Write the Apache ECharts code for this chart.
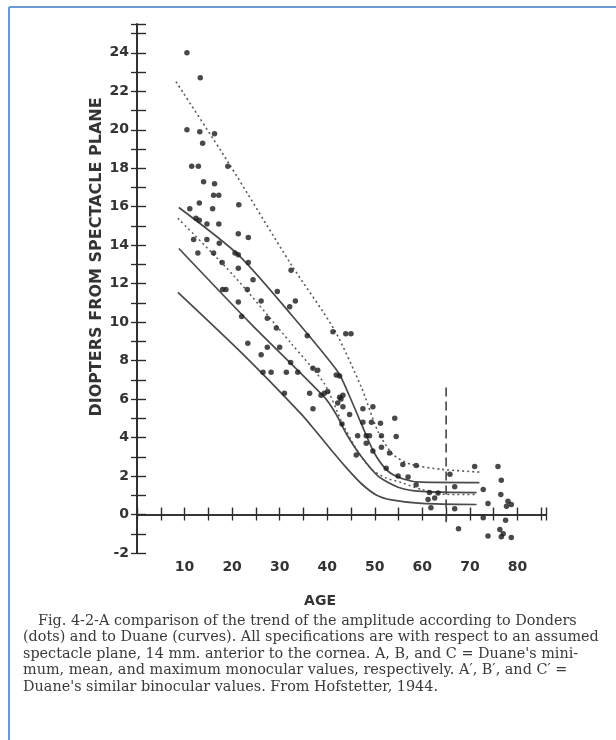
<!DOCTYPE html>
<html><head><meta charset="utf-8">
<script src="https://cdn.jsdelivr.net/npm/echarts@6/dist/echarts.min.js"></script>
<style>html,body{margin:0;padding:0;background:#fff}#c{width:616px;height:740px}</style>
</head><body><div id="c"></div><script>
// ---- data ----
const xTickLabels = [10, 20, 30, 40, 50, 60, 70, 80];
const yTickLabels = [-2, 0, 2, 4, 6, 8, 10, 12, 14, 16, 18, 20, 22, 24];

// Donders' data (dots): age and amplitude (diopters)
const dotAge = [10.5,13.3,10.5,13.2,16.3,13.8,11.5,12.9,19.1,14.0,16.3,16.1,17.2,13.1,21.4,11.1,15.9,12.4,13.1,14.7,
  17.2,21.3,23.4,11.9,14.7,17.3,12.8,16.1,20.6,21.3,17.9,23.4,21.3,32.4,24.4,29.5,18.0,18.7,23.2,21.3,
  26.1,33.3,32.1,22.0,27.4,29.3,35.8,23.3,27.4,26.1,30.0,32.3,37.0,38.0,26.5,28.2,31.4,33.8,41.9,42.6,
  31.0,36.3,39.4,40.1,43.3,41.2,43.9,45.0,38.7,42.6,42.9,42.2,43.3,37.0,47.5,49.6,44.7,43.1,47.5,49.3,
  51.2,54.2,46.4,48.2,48.9,51.4,54.5,48.2,49.6,51.4,53.1,46.1,52.4,55.9,58.7,54.9,57.0,58.7,61.5,63.3,
  61.2,61.8,62.6,65.8,66.8,66.8,71.0,72.8,73.8,72.8,67.6,75.9,76.6,76.5,78.0,78.7,77.7,77.5,76.3,77.0,
  73.8,78.7,76.6];
const dotDiopter = [24.0,22.7,20.0,19.9,19.8,19.3,18.1,18.1,18.1,17.3,17.2,16.6,16.6,16.2,16.1,15.9,15.9,15.4,15.3,15.1,
  15.1,14.6,14.4,14.3,14.3,14.1,13.6,13.6,13.6,13.5,13.1,13.1,12.8,12.7,12.2,11.6,11.7,11.7,11.7,11.05,
  11.1,11.1,10.8,10.3,10.2,9.7,9.3,8.9,8.7,8.3,8.7,7.9,7.6,7.5,7.4,7.4,7.4,7.4,7.25,7.2,
  6.3,6.3,6.3,6.4,6.2,9.5,9.4,9.4,6.2,6.1,6.0,5.8,5.6,5.5,5.5,5.6,5.2,4.7,4.8,4.8,
  4.75,5.0,4.1,4.1,4.1,4.1,4.05,3.7,3.3,3.5,3.2,3.1,2.4,2.6,2.55,2.0,1.95,1.55,1.15,1.12,
  0.78,0.35,0.86,2.1,1.45,0.3,2.5,1.3,0.57,-0.17,-0.74,2.5,1.78,1.04,0.69,0.52,0.43,-0.3,-0.78,-1.0,
  -1.12,-1.2,-1.15];

// Duane's curves: [age, diopters]
const curveCPrime = [[8.2,22.5],[19.2,18.3],[32.4,13.0],[41.5,9.6],[47.2,6.6],[50.7,4.3],[53.9,3.1],[57.7,2.6],[64,2.35],[72.4,2.2]];
const curveC = [[8.8,15.96],[21.3,13.5],[32.4,10.4],[42.3,7.4],[44.6,6.2],[47.2,4.7],[49.9,3.2],[52.8,2.25],[56.0,1.85],[59.8,1.68],[72.0,1.66]];
const curveBPrime = [[8.6,15.4],[20.4,12.4],[32.4,8.9],[39.4,6.8],[42.9,4.9],[46.1,3.4],[49.3,2.35],[52.4,1.9],[55.6,1.66],[59.8,1.3],[65.1,1.05],[71.4,1.04]];
const curveB = [[8.8,13.83],[24,9.9],[39.4,6.1],[41.9,5.2],[44.0,4.2],[47.2,3.0],[50.7,2.0],[54.9,1.42],[59.8,1.2],[71.4,1.14]];
const curveA = [[8.6,11.55],[22,8.4],[34.5,5.23],[37.7,4.3],[40.8,3.37],[44.0,2.44],[47.2,1.6],[50.3,1.02],[53.5,0.76],[59.8,0.58],[71.4,0.52]];
const markerLine = [[65,6.6],[65,-0.4]];

const captionLines = [
  "Fig. 4-2-A comparison of the trend of the amplitude according to Donders",
  "(dots) and to Duane (curves). All specifications are with respect to an assumed",
  "spectacle plane, 14 mm. anterior to the cornea. A, B, and C = Duane's mini-",
  "mum, mean, and maximum monocular values, respectively. A\u2032, B\u2032, and C\u2032 =",
  "Duane's similar binocular values. From Hofstetter, 1944."
];

// ---- chart ----
const chart = echarts.init(document.getElementById('c'), null, {renderer: 'canvas'});
const axisCol = '#2a2a2a';
const lblStyle = {color: '#333', fontFamily: 'DejaVu Sans', fontWeight: 'bold', fontSize: 14};
const solid = {color: '#4a4a4a', width: 1.7};
const dotted = {color: '#5a5a5a', width: 1.6, type: [2, 3]};

function lineSeries(data, style) {
  return {type: 'line', data: data, showSymbol: false, smooth: 0.25,
    lineStyle: style, silent: true, z: 2, xAxisIndex: 0, yAxisIndex: 0};
}

const graphics = [
  {type: 'line', shape: {x1: 9, y1: 7, x2: 616, y2: 7}, style: {stroke: '#6b9bd6', lineWidth: 2}},
  {type: 'line', shape: {x1: 9, y1: 7, x2: 9, y2: 740}, style: {stroke: '#6b9bd6', lineWidth: 2}},
  {type: 'text', x: 97, y: 257, rotation: Math.PI / 2,
    style: {text: 'DIOPTERS FROM SPECTACLE PLANE', fill: '#333', font: 'bold 16px "DejaVu Sans"',
      textAlign: 'center', textVerticalAlign: 'middle'}},
  {type: 'text', x: 320, y: 601,
    style: {text: 'AGE', fill: '#333', font: 'bold 14px "DejaVu Sans"', textAlign: 'center', textVerticalAlign: 'middle'}}
];
captionLines.forEach((t, i) => {
  graphics.push({type: 'text', x: i === 0 ? 38 : 23, y: 621 + i * 16.5,
    style: {text: t, fill: '#3a3a3a', font: '14.4px "DejaVu Serif"', textAlign: 'left', textVerticalAlign: 'middle'}});
});

const option = {
  backgroundColor: '#ffffff',
  animation: false,
  grid: {left: 137, right: 70, top: 24, bottom: 187, show: false},
  xAxis: [
    {type: 'value', min: 0, max: 86, interval: 5, position: 'bottom',
      axisLine: {show: true, lineStyle: {color: axisCol, width: 1.6}},
      axisTick: {show: true, inside: true, length: 7, lineStyle: {color: axisCol, width: 1.4}},
      axisLabel: Object.assign({margin: 7, formatter: v => xTickLabels.includes(v) ? String(v) : ''}, lblStyle),
      splitLine: {show: false}},
    {type: 'value', min: 0, max: 86, interval: 5, position: 'top',
      axisLine: {show: true, lineStyle: {color: axisCol, width: 1.6}},
      axisTick: {show: true, inside: true, length: 6, lineStyle: {color: axisCol, width: 1.3}},
      axisLabel: {show: false}, splitLine: {show: false}}
  ],
  yAxis: [
    {type: 'value', min: -2, max: 25.5, interval: 1, position: 'left',
      axisLine: {show: true, lineStyle: {color: axisCol, width: 1.6}},
      axisTick: {show: true, inside: true, length: 9, lineStyle: {color: axisCol, width: 1.4}},
      axisLabel: Object.assign({margin: 8, formatter: v => yTickLabels.includes(v) ? String(v) : ''}, lblStyle),
      splitLine: {show: false}},
    {type: 'value', min: -2, max: 25.5, interval: 1, position: 'right',
      axisLine: {show: true, lineStyle: {color: axisCol, width: 1.6}},
      axisTick: {show: true, inside: true, length: 6, lineStyle: {color: axisCol, width: 1.3}},
      axisLabel: {show: false}, splitLine: {show: false}}
  ],
  series: [
    lineSeries(curveCPrime, dotted),
    lineSeries(curveC, solid),
    lineSeries(curveBPrime, {color: '#5a5a5a', width: 1.5, type: [2, 3]}),
    lineSeries(curveB, solid),
    lineSeries(curveA, solid),
    {type: 'line', data: markerLine, showSymbol: false, silent: true,
      lineStyle: {color: '#444', width: 1.6, type: [9, 5]}},
    {type: 'scatter', data: dotAge.map((a, i) => [a, dotDiopter[i]]), symbol: 'circle', symbolSize: 5.5,
      itemStyle: {color: '#1c1c1c'}, silent: true, z: 3}
  ],
  graphic: graphics
};
chart.setOption(option);
</script></body></html>
